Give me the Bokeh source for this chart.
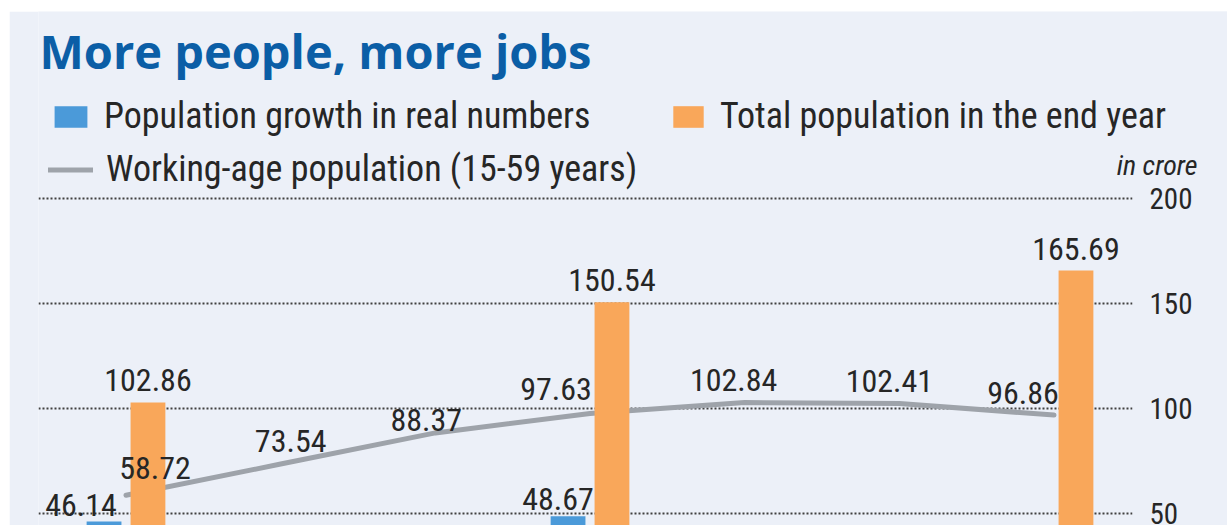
from bokeh.plotting import figure
from bokeh.layouts import row, column
from bokeh.models import (ColumnDataSource, FixedTicker, Legend, LegendItem, Label,
                          BoxAnnotation, Spacer)
from bokeh.transform import dodge
from bokeh.core.properties import value
from bokeh.embed import file_html
from bokeh.resources import INLINE

# ---------------- data ----------------
years = [2001, 2011, 2021, 2031, 2041, 2051, 2061]
working_age = [58.72, 73.54, 88.37, 97.63, 102.84, 102.41, 96.86]
bar_years = [2001, 2031, 2061]
growth = [46.14, 48.67, 15.15]
total = [102.86, 150.54, 165.69]
y_ticks = [50, 100, 150, 200]

title_text = "More people, more jobs"
legend_growth = "Population growth in real numbers"
legend_total = "Total population in the end year"
legend_working = "Working-age population (15-59 years)"
unit_text = "in crore"

# ---------------- style ----------------
PANEL = "#ecf0f8"
BLUE = "#4b9ad9"
ORANGE = "#f9a75a"
GREY = "#9ea3aa"
TITLE_BLUE = "#0b5ea6"
INK = "#262626"
FONT = "Roboto Condensed"

# page-pixel <-> data helpers
PX_YEAR = 15.467
X_2001 = 125.5
Y_ZERO = 618.0
PX_UNIT = 2.1
def px_to_year(px):
    return 2001 + (px - X_2001) / PX_YEAR
def py_to_val(py):
    return (Y_ZERO - py) / PX_UNIT

FIG_L, FIG_T = 9, 11            # white strip left / top
FRAME_L, FRAME_R, FRAME_T, FRAME_B = 38, 1227, 11, 525
GRID_END = 1132
Y_MIN = py_to_val(FRAME_B)

p = figure(width=1227 - FIG_L, height=525 - FIG_T, output_backend="svg",
           toolbar_location=None,
           x_range=(px_to_year(FRAME_L), px_to_year(FRAME_R)),
           y_range=(Y_MIN, py_to_val(FRAME_T)),
           x_axis_location=None, y_axis_location="right",
           min_border_left=FRAME_L - FIG_L, min_border_right=0,
           min_border_top=0, min_border_bottom=0)
p.background_fill_color = PANEL
p.border_fill_color = PANEL
p.outline_line_color = None
p.xgrid.visible = False
p.ygrid.ticker = FixedTicker(ticks=y_ticks)
p.ygrid.grid_line_color = "#404040"
p.ygrid.grid_line_width = 2
p.ygrid.grid_line_dash = "2 2"

ax = p.yaxis[0]
ax.ticker = FixedTicker(ticks=y_ticks)
ax.fixed_location = px_to_year(GRID_END)
ax.axis_line_color = None
ax.major_tick_line_color = None
ax.minor_tick_line_color = None
ax.major_tick_out = 0
ax.major_tick_in = 0
ax.major_label_standoff = 17
ax.major_label_text_font = FONT
ax.major_label_text_font_size = "29px"
ax.major_label_text_color = INK

# hide grid where the tick labels sit
p.add_layout(BoxAnnotation(left=px_to_year(GRID_END), fill_color=PANEL, fill_alpha=1,
                           line_color=None, level="underlay"))

line_src = ColumnDataSource(dict(year=years, val=working_age,
                                 lbl=["%.2f" % v for v in working_age]))
bar_src = ColumnDataSource(dict(year=bar_years, growth=growth, total=total,
                                g_lbl=["%.2f" % v if v > Y_MIN else "" for v in growth],
                                t_lbl=["%.2f" % v for v in total]))

OFF = 1.42
BW = 2.25
line_r = p.line("year", "val", source=line_src, line_color=GREY, line_width=5,
                line_cap="round")
blue_r = p.vbar(x=dodge("year", -OFF, range=p.x_range), top="growth", bottom=0,
                width=BW, source=bar_src, fill_color=BLUE, line_color=None)
orange_r = p.vbar(x=dodge("year", OFF, range=p.x_range), top="total", bottom=0,
                  width=BW, source=bar_src, fill_color=ORANGE, line_color=None)

LBL_SIZE = "32px"
p.text(x=dodge("year", OFF, range=p.x_range), y="total", text="t_lbl", source=bar_src,
       text_align="center", text_baseline="middle", y_offset=-22,
       text_font=value(FONT), text_font_size=LBL_SIZE, text_color=INK)
bar_src.data["g_dx"] = [-23, -10, -16]
p.text(x=dodge("year", -OFF, range=p.x_range), y="growth", text="g_lbl", source=bar_src,
       text_align="center", text_baseline="middle", x_offset="g_dx", y_offset=-17,
       text_font=value(FONT), text_font_size=LBL_SIZE, text_color=INK)
line_src.data["dx"] = [29, 10, -9, -34, -11, -10, -31]
line_src.data["dy"] = [-27, -23, -13, -24, -23, -22, -22]
p.text(x="year", y="val", text="lbl", source=line_src, x_offset="dx", y_offset="dy",
       text_align="center", text_baseline="middle",
       text_font=value(FONT), text_font_size=LBL_SIZE, text_color=INK)

# title and unit note
p.add_layout(Label(x=px_to_year(39), y=py_to_val(50), text=title_text,
                   text_font="Open Sans", text_font_style="bold", text_font_size="47px",
                   text_color=TITLE_BLUE, text_baseline="middle", text_align="left"))
p.add_layout(Label(x=px_to_year(1197), y=py_to_val(165), text=unit_text,
                   text_font=FONT, text_font_style="italic", text_font_size="28px",
                   text_color=INK, text_baseline="middle", text_align="right"))

# legends (one per item so each sits where the original has it)
def make_legend(label, rend, px, py_bottom, gw, gh):
    lg = Legend(items=[LegendItem(label=label, renderers=[rend])],
                location=(px - FRAME_L, FRAME_B - py_bottom),
                orientation="horizontal", background_fill_alpha=0,
                border_line_color=None, padding=0, margin=0, spacing=0,
                glyph_width=gw, glyph_height=gh, label_standoff=13,
                label_text_font=FONT, label_text_font_size="36px",
                label_text_color=INK)
    p.add_layout(lg, "center")

make_legend(legend_growth, blue_r, 50, 137, 41, 27)
make_legend(legend_total, orange_r, 669, 137, 38, 27)
make_legend(legend_working, line_r, 48, 190, 45, 27)

layout = row(Spacer(width=FIG_L, height=525), column(Spacer(width=1227 - FIG_L, height=FIG_T), p))

open("out.html", "w").write(file_html(layout, INLINE))
